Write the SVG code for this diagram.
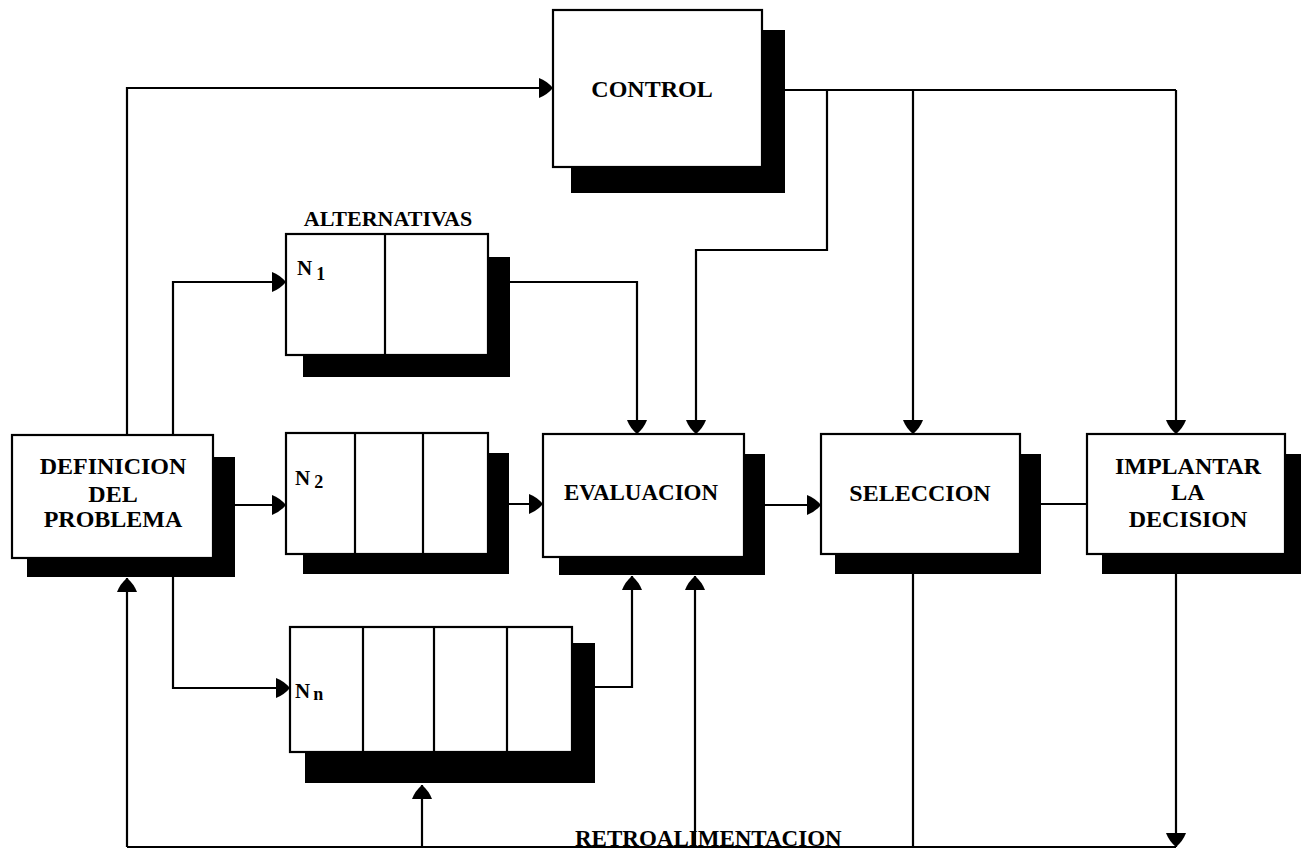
<svg xmlns="http://www.w3.org/2000/svg" width="1301" height="850" viewBox="0 0 1301 850">
<style>
.box{fill:#fff;stroke:#000;stroke-width:2.2}
.sh{fill:#000}
.div{stroke:#000;stroke-width:2.2}
.lbl{font-family:"Liberation Serif","Times New Roman",serif;font-weight:bold;font-size:24px;fill:#000;text-anchor:middle}
.n{font-family:"Liberation Serif","Times New Roman",serif;font-weight:bold;font-size:21px;fill:#000}
.sub{font-size:18px}
.c{fill:none;stroke:#000;stroke-width:2.2}
.a{marker-end:url(#ah)}
</style>
<defs>
<marker id="ah" markerUnits="userSpaceOnUse" markerWidth="16" markerHeight="22" refX="14" refY="11" orient="auto">
<path d="M0,1 Q8,4 14,11 Q8,18 0,21 Z" fill="#000"/>
</marker>
</defs>
<g id="connectors">
<path class="c a" d="M127,435 V88 H553"/>
<path class="c a" d="M173,435 V282 H286"/>
<path class="c a" d="M235,505 H286"/>
<path class="c a" d="M173,577 V688 H290"/>
<path class="c a" d="M510,282 H637 V434"/>
<path class="c a" d="M509,504 H543"/>
<path class="c a" d="M595,687 H632 V576"/>
<path class="c" d="M785,90 H1176"/>
<path class="c a" d="M827,90 V250 H696 V434"/>
<path class="c a" d="M913,90 V434"/>
<path class="c a" d="M1176,90 V434"/>
<path class="c a" d="M765,505 H821"/>
<path class="c" d="M1041,504 H1087"/>
<path class="c" d="M913,574 V847"/>
<path class="c a" d="M1176,574 V847"/>
<path class="c" d="M127,847 H1176"/>
<path class="c a" d="M127,847 V578"/>
<path class="c a" d="M422,847 V785"/>
<path class="c a" d="M695,847 V576"/>
</g>
<g id="control">
<rect class="sh" x="571" y="30" width="214" height="163"/>
<rect class="box" x="553" y="10" width="209" height="157"/>
<text class="lbl" x="652" y="97">CONTROL</text>
</g>
<g id="definicion">
<rect class="sh" x="27" y="457" width="208" height="120"/>
<rect class="box" x="12" y="435" width="201" height="123"/>
<text class="lbl" x="113" y="474">DEFINICION</text>
<text class="lbl" x="113" y="502">DEL</text>
<text class="lbl" x="113" y="527">PROBLEMA</text>
</g>
<g id="alternativas-label">
<text class="lbl" x="388" y="226" style="font-size:22px">ALTERNATIVAS</text>
</g>
<g id="n1">
<rect class="sh" x="303" y="257" width="207" height="120"/>
<rect class="box" x="286" y="234" width="202" height="121"/>
<line class="div" x1="385" y1="234" x2="385" y2="355"/>
<text class="n" x="297" y="275">N<tspan class="sub" dx="4" dy="5">1</tspan></text>
</g>
<g id="n2">
<rect class="sh" x="303" y="453" width="206" height="121"/>
<rect class="box" x="286" y="433" width="202" height="121"/>
<line class="div" x1="355" y1="433" x2="355" y2="554"/>
<line class="div" x1="423" y1="433" x2="423" y2="554"/>
<text class="n" x="295" y="485">N<tspan class="sub" dx="4" dy="3">2</tspan></text>
</g>
<g id="nn">
<rect class="sh" x="305" y="643" width="290" height="140"/>
<rect class="box" x="290" y="627" width="282" height="125"/>
<line class="div" x1="363" y1="627" x2="363" y2="752"/>
<line class="div" x1="434" y1="627" x2="434" y2="752"/>
<line class="div" x1="507" y1="627" x2="507" y2="752"/>
<text class="n" x="295" y="698">N<tspan class="sub" dx="3" dy="2">n</tspan></text>
</g>
<g id="evaluacion">
<rect class="sh" x="559" y="454" width="206" height="121"/>
<rect class="box" x="543" y="434" width="201" height="123"/>
<text class="lbl" x="641" y="500" style="font-size:23px">EVALUACION</text>
</g>
<g id="seleccion">
<rect class="sh" x="835" y="454" width="206" height="120"/>
<rect class="box" x="821" y="434" width="199" height="120"/>
<text class="lbl" x="920" y="501">SELECCION</text>
</g>
<g id="implantar">
<rect class="sh" x="1102" y="454" width="204" height="120"/>
<rect class="box" x="1087" y="434" width="198" height="120"/>
<text class="lbl" x="1188" y="474">IMPLANTAR</text>
<text class="lbl" x="1188" y="500">LA</text>
<text class="lbl" x="1188" y="527">DECISION</text>
</g>
<g id="retro-label">
<text class="lbl" x="575" y="846" style="text-anchor:start;font-size:23px">RETROALIMENTACION</text>
</g>
</svg>
